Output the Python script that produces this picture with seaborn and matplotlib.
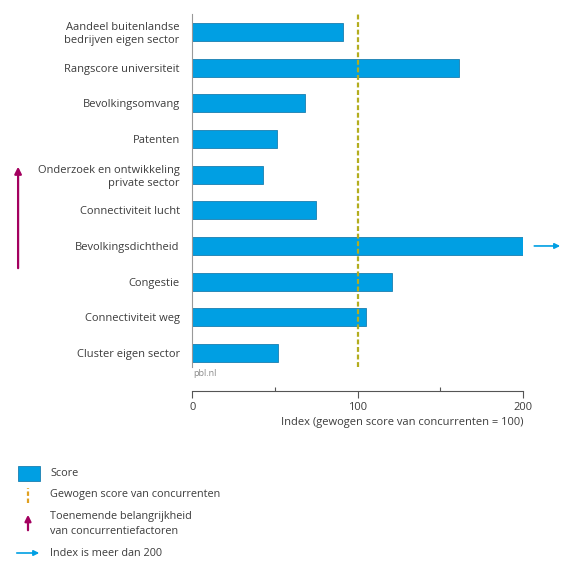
import matplotlib
matplotlib.use("Agg")
import matplotlib.pyplot as plt
import seaborn as sns
import pandas as pd
from matplotlib.patches import Rectangle, FancyArrowPatch
from matplotlib.lines import Line2D
from matplotlib.ticker import FixedLocator
import matplotlib.transforms as mtransforms

categories = [
    "Aandeel buitenlandse\nbedrijven eigen sector",
    "Rangscore universiteit",
    "Bevolkingsomvang",
    "Patenten",
    "Onderzoek en ontwikkeling\nprivate sector",
    "Connectiviteit lucht",
    "Bevolkingsdichtheid",
    "Congestie",
    "Connectiviteit weg",
    "Cluster eigen sector",
]
scores = [91, 161, 68, 51, 43, 75, 200, 121, 105, 52]
reference_value = 100
over_200 = ["Bevolkingsdichtheid"]
x_ticks = [0, 100, 200]
x_labels = ["0", "100", "200"]

BLUE = "#009fe3"
OLIVE = "#b3ad1e"
MAGENTA = "#a3005f"
TXT = "#3c3c3c"

sns.set_theme(style="white")
plt.rcParams["font.family"] = ["Open Sans", "DejaVu Sans"]

df = pd.DataFrame({"factor": categories, "score": scores})

fig = plt.figure(figsize=(5.62, 5.65), dpi=100)
ax = fig.add_axes([0.342, 0.35, 0.589, 0.625])

sns.barplot(data=df, x="score", y="factor", orient="h", color=BLUE,
            saturation=1, width=0.5, edgecolor="#1a7fb0", linewidth=0.6, ax=ax)

ax.set_xlim(0, 200)
ax.set_ylim(9.4, -0.5)
ax.axvline(reference_value, color=OLIVE, lw=1.6, ls=(0, (2.2, 1.2)), zorder=3)

for s in ["top", "right"]:
    ax.spines[s].set_visible(False)
ax.spines["left"].set_color("#999999")
ax.spines["left"].set_linewidth(0.8)
ax.spines["bottom"].set_position(("outward", 17))
ax.spines["bottom"].set_color("#555555")
ax.spines["bottom"].set_linewidth(0.8)

ax.set_xticks(x_ticks)
ax.set_xticklabels(x_labels, color=TXT, fontsize=8)
ax.xaxis.set_minor_locator(FixedLocator([50, 150]))
ax.tick_params(axis="x", which="major", direction="out", length=5, width=0.8,
               color="#555555", bottom=True, pad=3)
ax.tick_params(axis="x", which="minor", direction="in", length=3, width=0.8,
               color="#555555", bottom=True)
ax.tick_params(axis="y", length=0, pad=9, labelsize=8, labelcolor=TXT)
for lbl in ax.get_yticklabels():
    lbl.set_multialignment("right")

ax.set_ylabel("")
ax.set_xlabel("Index (gewogen score van concurrenten = 100)", loc="right",
              fontsize=8, color=TXT, labelpad=3)

ax.text(0.003, -0.005, "pbl.nl", transform=ax.transAxes, fontsize=6.5,
        color="#8a8a8a", va="top", ha="left")

# arrow for values above 200
for name in over_200:
    yi = categories.index(name)
    ax.annotate("", xy=(224, yi), xytext=(205, yi), xycoords="data",
                annotation_clip=False,
                arrowprops=dict(arrowstyle="-|>", color=BLUE, lw=1.2,
                                mutation_scale=8))

# importance arrow
trans = mtransforms.blended_transform_factory(ax.transAxes, ax.transData)
ax.annotate("", xy=(-0.526, 3.7), xytext=(-0.526, 6.7), xycoords=trans,
            textcoords=trans, annotation_clip=False,
            arrowprops=dict(arrowstyle="-|>", color=MAGENTA, lw=1.6,
                            mutation_scale=10))

# legend (manual)
W, H = 562, 565
def fx(px): return px / W
def fy(py): return 1 - py / H

fig.add_artist(Rectangle((fx(18), fy(481)), fx(22), 15 / H, transform=fig.transFigure,
                         facecolor=BLUE, edgecolor="#1a7fb0", lw=0.6))
fig.text(fx(50), fy(474), "Score", fontsize=7.8, color=TXT, va="center")
fig.add_artist(Line2D([fx(28), fx(28)], [fy(503), fy(488)], transform=fig.transFigure,
                      color="#e0a020", lw=1.6, ls=(0, (2, 1.2))))
fig.text(fx(50), fy(495), "Gewogen score van concurrenten", fontsize=7.8, color=TXT, va="center")
fig.add_artist(FancyArrowPatch((fx(28), fy(533)), (fx(28), fy(512)),
               transform=fig.transFigure, arrowstyle="-|>", color=MAGENTA, lw=1.6,
               mutation_scale=9))
fig.text(fx(50), fy(517), "Toenemende belangrijkheid", fontsize=7.8, color=TXT, va="center")
fig.text(fx(50), fy(531), "van concurrentiefactoren", fontsize=7.8, color=TXT, va="center")
fig.add_artist(FancyArrowPatch((fx(14), fy(553)), (fx(42), fy(553)),
               transform=fig.transFigure, arrowstyle="-|>", color=BLUE, lw=1.2,
               mutation_scale=8))
fig.text(fx(50), fy(553), "Index is meer dan 200", fontsize=7.8, color=TXT, va="center")

fig.savefig("out.png", dpi=100)
